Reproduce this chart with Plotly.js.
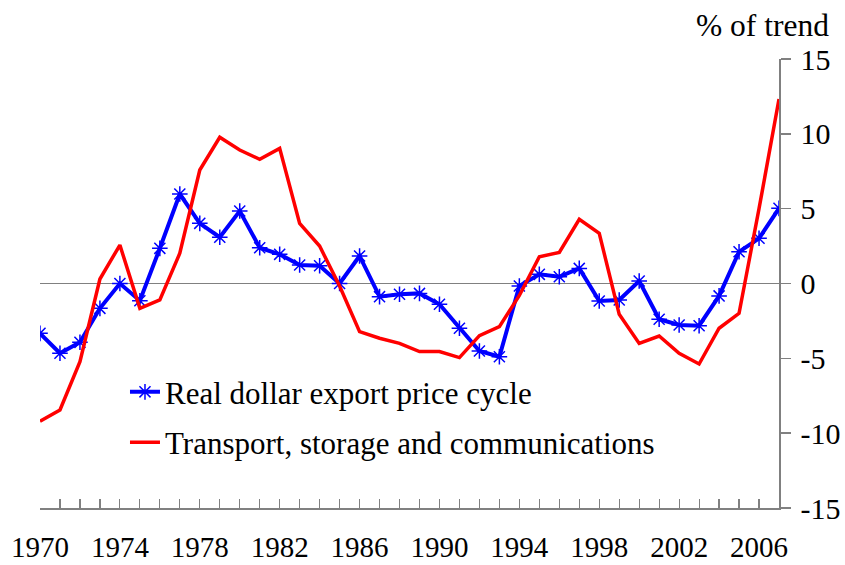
<!DOCTYPE html>
<html>
<head>
<meta charset="utf-8">
<script src="https://cdn.plot.ly/plotly-3.0.1.min.js"></script>
<style>html,body{margin:0;padding:0;background:#fff;}</style>
</head>
<body>
<div id="chart" style="width:845px;height:565px;"></div>
<script>
var years = [];
for (var y = 1970; y <= 2007; y++) years.push(y);

var exportPriceCycle = [-3.33, -4.66, -3.93, -1.66, 0.0, -1.15, 2.35, 5.98, 4.02, 3.09,
  4.84, 2.39, 1.95, 1.24, 1.19, 0.0, 1.84, -0.88, -0.72, -0.66,
  -1.39, -2.99, -4.51, -4.89, -0.17, 0.61, 0.45, 1.01, -1.17, -1.10,
  0.17, -2.39, -2.77, -2.82, -0.83, 2.12, 3.02, 5.02];

var transportStorageComm = [-9.2, -8.45, -5.22, 0.3, 2.57, -1.66, -1.10, 2.02, 7.58, 9.77,
  8.92, 8.3, 9.03, 4.02, 2.5, -0.17, -3.22, -3.66, -4.0, -4.55,
  -4.55, -4.95, -3.48, -2.88, -0.8, 1.79, 2.08, 4.29, 3.35, -2.06,
  -4.0, -3.51, -4.67, -5.38, -2.99, -1.99, 5.0, 12.32];

var seriesNames = ["Real dollar export price cycle", "Transport, storage and communications"];
var xTickLabels = ["1970", "1974", "1978", "1982", "1986", "1990", "1994", "1998", "2002", "2006"];
var yTickVals = [-15, -10, -5, 0, 5, 10, 15];
var yTickLabels = ["-15", "-10", "-5", "0", "5", "10", "15"];
var yAxisTitle = "% of trend";

var tickText = years.map(function (yr) {
  var s = String(yr);
  return xTickLabels.indexOf(s) >= 0 ? s : "";
});

var FONT = "Liberation Serif, Times New Roman, serif";

var traces = [
  {
    x: years, y: exportPriceCycle, name: seriesNames[0],
    type: "scatter", mode: "lines+markers",
    line: {color: "#0000ff", width: 4},
    marker: {symbol: "asterisk-open", size: 13, color: "#0000ff", line: {color: "#0000ff", width: 1.5}},
    legendgroup: "a"
  },
  {
    x: years, y: transportStorageComm, name: seriesNames[1],
    type: "scatter", mode: "lines",
    line: {color: "#ff0000", width: 3.5},
    legendgroup: "b"
  }
];

var layout = {
  width: 845, height: 565,
  margin: {l: 40, r: 66, t: 59, b: 57},
  paper_bgcolor: "#fff", plot_bgcolor: "#fff",
  font: {family: FONT, size: 28, color: "#000"},
  showlegend: true,
  legend: {
    x: 0.115, y: 0.318, xanchor: "left", yanchor: "top",
    bgcolor: "rgba(0,0,0,0)", traceorder: "grouped", tracegroupgap: 7,
    font: {family: FONT, size: 31, color: "#000"}
  },
  xaxis: {
    range: [1970, 2007],
    tickmode: "array", tickvals: years, ticktext: tickText,
    ticks: "inside", ticklen: 9, tickwidth: 1.2, tickcolor: "#808080",
    showline: true, linecolor: "#808080", linewidth: 1.5,
    showgrid: false, zeroline: false,
    tickangle: 0, ticklabelstandoff: 13,
    tickfont: {family: FONT, size: 29, color: "#000"}
  },
  yaxis: {
    range: [-15, 15], side: "right",
    tickmode: "array", tickvals: yTickVals, ticktext: yTickLabels,
    ticks: "outside", ticklen: 10, tickwidth: 1.5, tickcolor: "#808080",
    showline: true, linecolor: "#808080", linewidth: 1.5,
    showgrid: false,
    zeroline: true, zerolinecolor: "#808080", zerolinewidth: 1.5,
    ticklabelstandoff: 4,
    tickfont: {family: FONT, size: 30, color: "#000"}
  },
  annotations: [{
    text: yAxisTitle, xref: "paper", yref: "paper",
    x: 1.07, y: 1.0, xanchor: "right", yanchor: "bottom", yshift: 14,
    showarrow: false, font: {family: FONT, size: 31.5, color: "#000"}
  }]
};

Plotly.newPlot("chart", traces, layout, {displayModeBar: false, staticPlot: true});
</script>
</body>
</html>
